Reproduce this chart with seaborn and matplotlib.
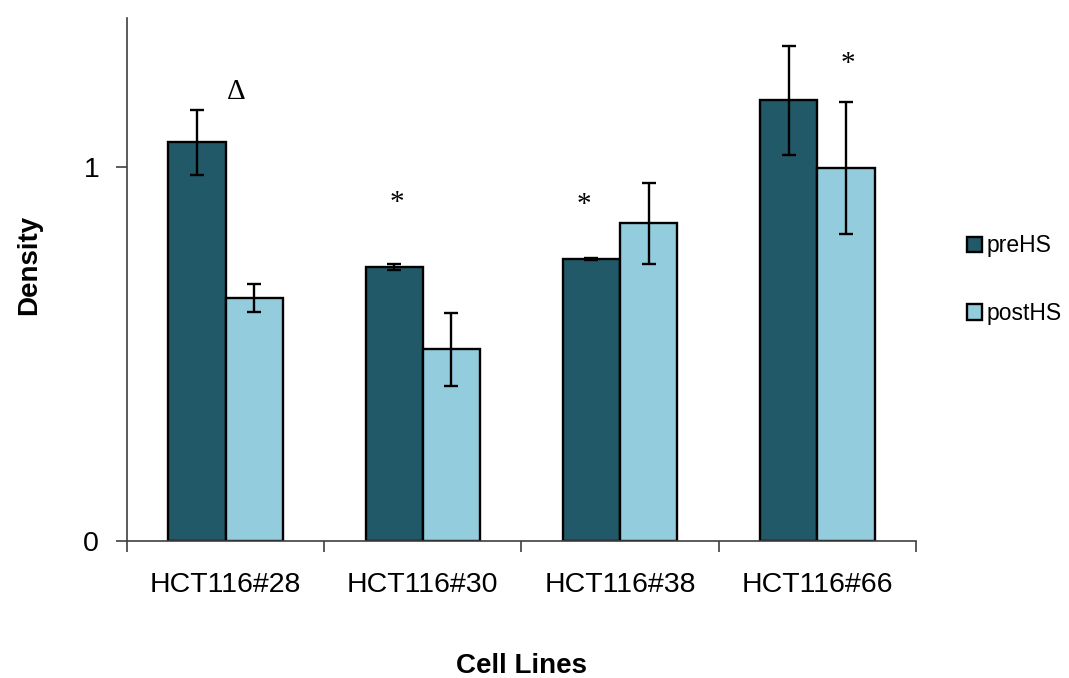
import matplotlib
matplotlib.use("Agg")
import matplotlib.pyplot as plt
import numpy as np
import pandas as pd
import seaborn as sns

# data
cell_lines = ["HCT116#28", "HCT116#30", "HCT116#38", "HCT116#66"]
pre_hs = [1.067, 0.733, 0.754, 1.179]
post_hs = [0.650, 0.513, 0.850, 0.997]
pre_err = [0.087, 0.008, 0.003, 0.146]
post_err = [0.037, 0.098, 0.108, 0.177]

# significance marks: (symbol, x in category units, y in data units)
marks = [("\u0394", 0.056, 1.20), ("*", 0.87, 0.905), ("*", 1.815, 0.90), ("*", 3.153, 1.275)]

colors = ["#215968", "#93CDDD"]

df = pd.DataFrame({
    "Cell Lines": cell_lines * 2,
    "Density": pre_hs + post_hs,
    "group": ["preHS"] * 4 + ["postHS"] * 4,
})

sns.set_style("white")
plt.rcParams["font.family"] = ["Liberation Sans", "DejaVu Sans"]
plt.rcParams["text.color"] = "black"
plt.rcParams["xtick.color"] = "black"
plt.rcParams["ytick.color"] = "black"
plt.rcParams["axes.labelcolor"] = "black"

fig = plt.figure(figsize=(10.69, 6.78), dpi=100)
ax = fig.add_axes([0.1188, 0.202, 0.738, 0.771])

sns.barplot(data=df, x="Cell Lines", y="Density", hue="group",
            palette=colors, saturation=1, width=0.58, errorbar=None,
            edgecolor="black", linewidth=1.7, ax=ax)

# error bars at the centre of each drawn bar
errs = pre_err + post_err
bars = [p for p in ax.patches if p.get_height() > 0][:8]
for p, e in zip(bars, errs):
    ax.errorbar(p.get_x() + p.get_width() / 2, p.get_height(), yerr=e,
                fmt="none", ecolor="black", elinewidth=1.7, capsize=5, capthick=1.7)

for sym, x, y in marks:
    ax.text(x, y, sym, ha="center", va="center", fontsize=21,
            family=["Liberation Serif", "DejaVu Serif"])

ax.set_xlim(-0.5, 3.5)
ax.set_ylim(0, 1.398)
ax.set_yticks([0, 1])
ax.set_yticklabels(["0", "1"])
ax.set_xticks(np.arange(-0.5, 4.0, 1.0), minor=True)
ax.tick_params(axis="x", which="major", length=0, pad=22, labelsize=20.5)
ax.tick_params(axis="x", which="minor", length=8, width=1.2, color="#404040", direction="out", bottom=True)
ax.tick_params(axis="y", length=8, width=1.2, color="#404040", direction="out", left=True, pad=12, labelsize=20.5)

for s in ["top", "right"]:
    ax.spines[s].set_visible(False)
for s in ["left", "bottom"]:
    ax.spines[s].set_color("#404040")
    ax.spines[s].set_linewidth(1.2)

ax.set_xlabel("Cell Lines", fontsize=20, fontweight="bold")
ax.set_ylabel("Density", fontsize=20, fontweight="bold")
ax.xaxis.set_label_coords(0.5, -0.215)
ax.yaxis.set_label_coords(-0.108, 0.528)

leg = ax.legend(loc="center left", bbox_to_anchor=(1.053, 0.5), frameon=False,
                fontsize=16.5, labelspacing=1.95, handlelength=0.65, handleheight=0.65,
                handletextpad=0.2, borderaxespad=0)
for h in leg.legend_handles:
    h.set_edgecolor("black")
    h.set_linewidth(1.7)

fig.savefig("out.png", dpi=100)
